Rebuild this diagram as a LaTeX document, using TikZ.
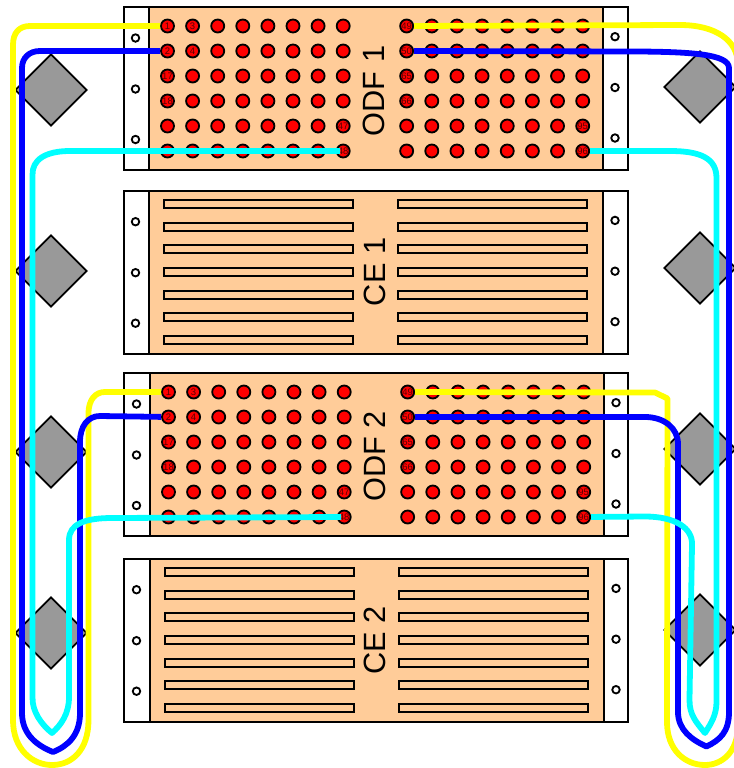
\documentclass[tikz,border=0pt]{standalone}
\usepackage{fontspec}
\setsansfont{Liberation Sans}
\usetikzlibrary{shapes.geometric}
\definecolor{facecol}{HTML}{FFCC99}
\definecolor{coolcol}{HTML}{999999}
\definecolor{yellowcol}{HTML}{FFFF00}
\definecolor{bluecol}{HTML}{0000FF}
\definecolor{cyancol}{HTML}{00FFFF}
\tikzset{
	frame/.style={draw,fill=white,line width=1.05pt,anchor=north west,inner sep=0pt,outer sep=0pt,minimum width=10.08cm,minimum height=3.26cm},
	face/.style={draw,fill=facecol,line width=1.05pt,anchor=north west,inner sep=0pt,outer sep=0pt,minimum width=9.08cm,minimum height=3.26cm},
	hole/.style={draw,fill=white,circle,line width=1.05pt,inner sep=0pt,minimum size=0.15cm},
	pin/.style={draw,fill=red,circle,line width=1.05pt,inner sep=0pt,minimum size=0.26cm},
	pinlabel/.style={inner sep=0pt,text=black!65!red,font=\sffamily\fontsize{5.4pt}{6pt}\selectfont},
	slot/.style={draw,fill=facecol,line width=1.05pt,anchor=west,inner sep=0pt,outer sep=0pt,minimum width=3.78cm,minimum height=0.16cm},
	paneltext/.style={rotate=90,inner sep=0pt,font=\sffamily\fontsize{17.5pt}{20pt}\selectfont},
	cooler/.style={draw,fill=coolcol,diamond,aspect=1,line width=1.05pt,inner sep=0pt,minimum size=1.44cm},
	wire/.style={line width=3.3pt,line join=round},
	yellowwire/.style={wire,yellowcol},
	bluewire/.style={wire,bluecol},
	cyanwire/.style={wire,cyancol},
}
\begin{document}
\begin{tikzpicture}[x=0.02cm,y=-0.02cm]
	\useasboundingbox (0,0) rectangle (734,768);
	% coolers
	\foreach \y [count=\i] in {90,271,452,633} \node[cooler] (coolL\i) at (51,\y) {};
	\foreach \y [count=\i] in {87,268,449,630} \node[cooler] (coolR\i) at (700,\y) {};
	% frames
	\foreach \panel/\dx/\top in {odfOne/0/7,ceOne/0/190.7,odfTwo/1/373,ceTwo/1/558.7} {
		\node[frame] (\panel) at (124,\top) {};
		\node[face] (\panel F) at (149+\dx,\top) {};
		\foreach \h/\a/\b in {1/31/29.7,2/82/80.5,3/132.5/131} {
			\node[hole] (\panel HL\h) at (135.5+\dx,\top+\a) {};
			\node[hole] (\panel HR\h) at (615+\dx,\top+\b) {};
		}
	}
	% optical panels
	\foreach \panel/\dx/\top in {odfOne/0/7,odfTwo/1/373}
		\foreach \r in {1,...,6}
			\foreach \c in {1,...,8} {
				\node[pin] (\panel-L-\r-\c) at (142.4+\dx+25.1*\c,\top-6+25*\r) {};
				\node[pin] (\panel-R-\r-\c) at (381.5+\dx+25.15*\c,\top-6+25*\r) {};
			}
	\foreach \panel in {odfOne,odfTwo}
		\foreach \side/\r/\c/\txt in {L/1/1/1,L/1/2/3,L/2/1/2,L/2/2/4,L/3/1/17,L/4/1/18,L/5/8/47,L/6/8/48,R/1/1/49,R/2/1/50,R/3/1/65,R/4/1/66,R/5/8/95,R/6/8/96}
			\node[pinlabel] (\panel-T\txt) at (\panel-\side-\r-\c) {\txt};
	% electrical panels
	\foreach \panel/\dx/\top in {ceOne/0/191,ceTwo/1/559}
		\foreach \s in {0,...,6} {
			\node[slot] (\panel SL\s) at (164+\dx,\top+13+22.65*\s) {};
			\node[slot] (\panel SR\s) at (398+\dx,\top+13+22.65*\s) {};
		}
	\node[paneltext] (odfOneT) at (374,91) {ODF 1};
	\node[paneltext] (ceOneT) at (375,272) {CE 1};
	\node[paneltext] (odfTwoT) at (375,456.5) {ODF 2};
	\node[paneltext] (ceTwoT) at (375,640.5) {CE 2};
	% fibres
	\draw[yellowwire] (odfOne-L-1-1) -- (30,26) .. controls (19,26) and (13,33) .. (13,45) -- (13,720)
		.. controls (13,750) and (33,765) .. (52,765) .. controls (72,765) and (88.5,750) .. (88.5,720)
		-- (88.5,412) .. controls (89,400) and (95,392) .. (105,392) -- (odfTwo-L-1-1);
	\draw[yellowwire] (odfOne-R-1-1) -- (680,25) .. controls (715,25) and (738,40) .. (738,65) -- (738,725)
		.. controls (738,752) and (722,765) .. (705,765) .. controls (685,765) and (667,750) .. (667,722)
		-- (667.5,398.5) -- (655,392.5) -- (odfTwo-R-1-1);
	\draw[bluewire] (odfOne-L-2-1) -- (40,51) .. controls (29,51) and (22,58) .. (22,68) -- (22,713)
		.. controls (22,735) and (38,746) .. (53,752) .. controls (68,746) and (80,735) .. (80,713)
		-- (80,442) .. controls (80,426) and (88,416) .. (100,416) -- (odfTwo-L-2-1);
	\draw[bluewire] (odfOne-R-2-1) -- (640,51.5) .. controls (690,52) and (729,54) .. (729,68) -- (729,712)
		.. controls (729,732) and (720,740) .. (706.5,746.5) .. controls (692,740) and (678,730) .. (678,712)
		-- (678,444) .. controls (678,428) and (664,417) .. (645,417) -- (odfTwo-R-2-1);
	\draw[cyanwire] ([xshift=-0.06cm]odfOne-L-6-8.center) -- (70,151) .. controls (45,151) and (32,160) .. (32.5,175) -- (32.5,697)
		.. controls (32,712) and (42,725) .. (52,733) .. controls (61,725) and (69,714) .. (69,697)
		-- (69,540) .. controls (69,524) and (85,518) .. (112,518) -- ([xshift=-0.06cm]odfTwo-L-6-8.center);
	\draw[cyanwire] (odfOne-R-6-8) -- (670,151) .. controls (700,151) and (716.5,158) .. (716.5,178) -- (716.5,703)
		.. controls (716,715) and (712,722) .. (705,733) .. controls (696,722) and (689.5,715) .. (689.5,700)
		-- (692,545) .. controls (693,528) and (675,516.5) .. (645,516.5) -- (odfTwo-R-6-8);
\end{tikzpicture}
\end{document}
